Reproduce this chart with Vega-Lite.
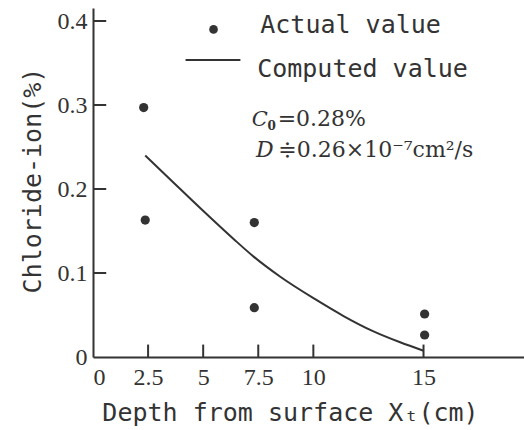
{
  "$schema": "https://vega.github.io/schema/vega-lite/v6.json",
  "autosize": {"type": "none"},
  "width": 431,
  "height": 349,
  "padding": {"left": 93, "top": 8, "right": 0, "bottom": 73},
  "background": "white",
  "config": {
    "view": {"stroke": null},
    "axis": {
      "domainColor": "#333",
      "domainWidth": 2,
      "ticks": false,
      "grid": false,
      "labelFont": "Liberation Serif",
      "labelFontSize": 24,
      "labelColor": "#333",
      "titleFont": "DejaVu Sans Mono",
      "titleFontWeight": "normal",
      "titleColor": "#333"
    }
  },
  "datasets": {
    "computed": [
      {"depth": 2.37, "chloride": 0.24},
      {"depth": 3.66, "chloride": 0.2075},
      {"depth": 5.02, "chloride": 0.1735},
      {"depth": 6.38, "chloride": 0.1405},
      {"depth": 7.29, "chloride": 0.1195},
      {"depth": 8.5, "chloride": 0.0955},
      {"depth": 10.1, "chloride": 0.0685},
      {"depth": 11.37, "chloride": 0.0488},
      {"depth": 12.73, "chloride": 0.0305},
      {"depth": 13.94, "chloride": 0.0175},
      {"depth": 15.0, "chloride": 0.0075}
    ],
    "actual": [
      {"depth": 2.3, "chloride": 0.297},
      {"depth": 2.37, "chloride": 0.163},
      {"depth": 7.32, "chloride": 0.16},
      {"depth": 7.32, "chloride": 0.0587},
      {"depth": 15.05, "chloride": 0.0512},
      {"depth": 15.05, "chloride": 0.0262}
    ],
    "xticks": [{"t": 2.5}, {"t": 5}, {"t": 7.5}, {"t": 10}, {"t": 15}],
    "yticks": [{"t": 0.1}, {"t": 0.2}, {"t": 0.3}, {"t": 0.4}]
  },
  "layer": [
    {
      "data": {"name": "computed"},
      "mark": {"type": "line", "color": "#333", "strokeWidth": 2, "interpolate": "monotone"},
      "encoding": {
        "x": {
          "field": "depth", "type": "quantitative",
          "scale": {"domain": [0, 19.56], "nice": false, "zero": false},
          "axis": {
            "values": [0, 2.5, 5, 7.5, 10, 15],
            "format": "~g",
            "labelPadding": 8,
            "title": "Depth from surface Xₜ(cm)",
            "titleFontSize": 25,
            "titleX": 197,
            "titleY": 63,
            "titleAlign": "center",
            "titleBaseline": "alphabetic",
            "titleAnchor": null
          }
        },
        "y": {
          "field": "chloride", "type": "quantitative",
          "scale": {"domain": [0, 0.4155], "nice": false, "zero": false},
          "axis": {
            "values": [0, 0.1, 0.2, 0.3, 0.4],
            "format": "~g",
            "labelPadding": 6,
            "title": "Chloride-ion(%)",
            "titleFontSize": 25,
            "titleAngle": -90,
            "titleX": -53,
            "titleY": 172,
            "titleAlign": "center",
            "titleBaseline": "alphabetic",
            "titleAnchor": null
          }
        }
      }
    },
    {
      "data": {"name": "xticks"},
      "mark": {"type": "rule", "color": "#333", "strokeWidth": 2},
      "encoding": {
        "x": {"field": "t", "type": "quantitative"},
        "y": {"datum": 0},
        "y2": {"datum": 0.0148}
      }
    },
    {
      "data": {"name": "yticks"},
      "mark": {"type": "rule", "color": "#333", "strokeWidth": 2},
      "encoding": {
        "y": {"field": "t", "type": "quantitative"},
        "x": {"datum": 0},
        "x2": {"datum": 0.6}
      }
    },
    {
      "data": {"name": "actual"},
      "mark": {"type": "circle", "color": "#333", "opacity": 1, "size": 85},
      "encoding": {
        "x": {"field": "depth", "type": "quantitative"},
        "y": {"field": "chloride", "type": "quantitative"}
      }
    },
    {
      "data": {"values": [{}]},
      "mark": {"type": "circle", "color": "#333", "opacity": 1, "size": 75},
      "encoding": {"x": {"datum": 5.47}, "y": {"datum": 0.39}}
    },
    {
      "data": {"values": [{}]},
      "mark": {"type": "rule", "color": "#333", "strokeWidth": 2},
      "encoding": {"x": {"datum": 4.2}, "x2": {"datum": 6.69}, "y": {"datum": 0.3536}}
    },
    {
      "data": {"values": [{}]},
      "mark": {"type": "text", "text": "Actual value", "font": "DejaVu Sans Mono", "fontSize": 25, "color": "#333", "align": "left", "baseline": "alphabetic"},
      "encoding": {"x": {"datum": 7.59}, "y": {"datum": 0.3857}}
    },
    {
      "data": {"values": [{}]},
      "mark": {"type": "text", "text": "Computed value", "font": "DejaVu Sans Mono", "fontSize": 25, "color": "#333", "align": "left", "baseline": "alphabetic"},
      "encoding": {"x": {"datum": 7.45}, "y": {"datum": 0.3333}}
    },
    {
      "data": {"values": [{}]},
      "mark": {"type": "text", "text": "C", "font": "DejaVu Serif", "fontStyle": "italic", "fontSize": 21, "color": "#333", "align": "left", "baseline": "alphabetic"},
      "encoding": {"x": {"datum": 7.2}, "y": {"datum": 0.275}}
    },
    {
      "data": {"values": [{}]},
      "mark": {"type": "text", "text": "0", "font": "DejaVu Serif", "fontSize": 12, "fontWeight": "bold", "color": "#333", "align": "left", "baseline": "alphabetic"},
      "encoding": {"x": {"datum": 7.92}, "y": {"datum": 0.2705}}
    },
    {
      "data": {"values": [{}]},
      "mark": {"type": "text", "text": "=0.28%", "font": "DejaVu Serif", "fontSize": 22, "color": "#333", "align": "left", "baseline": "alphabetic"},
      "encoding": {"x": {"datum": 8.38}, "y": {"datum": 0.275}}
    },
    {
      "data": {"values": [{}]},
      "mark": {"type": "text", "text": "D", "font": "DejaVu Serif", "fontStyle": "italic", "fontSize": 22, "color": "#333", "align": "left", "baseline": "alphabetic"},
      "encoding": {"x": {"datum": 7.4}, "y": {"datum": 0.238}}
    },
    {
      "data": {"values": [{}]},
      "mark": {"type": "text", "text": "≑0.26×10⁻⁷cm²/s", "font": "DejaVu Serif", "fontSize": 22, "color": "#333", "align": "left", "baseline": "alphabetic"},
      "encoding": {"x": {"datum": 8.41}, "y": {"datum": 0.238}}
    }
  ]
}
